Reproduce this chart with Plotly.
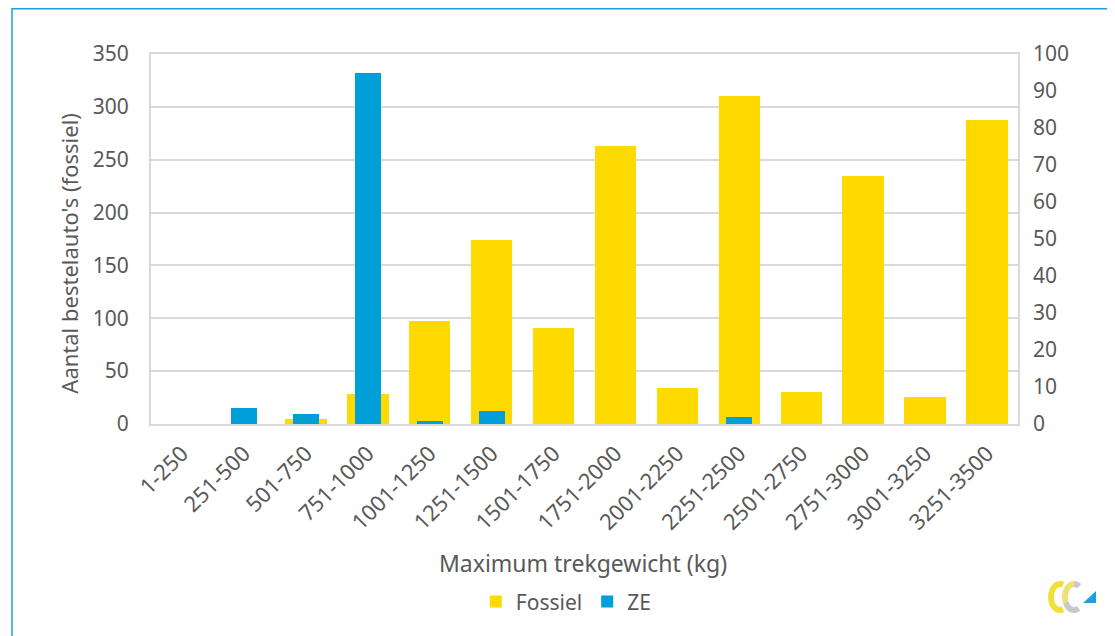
import math
import plotly.graph_objects as go

categories = ['1-250', '251-500', '501-750', '751-1000', '1001-1250', '1251-1500', '1501-1750',
              '1751-2000', '2001-2250', '2251-2500', '2501-2750', '2751-3000', '3001-3250', '3251-3500']
fossiel = [0, 0, 5, 28, 97, 174, 91, 263, 34, 310, 30, 235, 26, 288]
ze = [0, 4.4, 2.6, 95, 0.7, 3.6, 0, 0, 0, 1.8, 0, 0, 0, 0]

FONT = 'Noto Sans'
GREY = '#595959'
GRID = '#d9d9d9'


def to_paper(x, y):
    # screen pixel (window coords) -> paper coords; canvas sits 8px in from the window edge
    return (x - 8 - 143) / 867, (424 - y) / 370


def arc_path(cx, cy, rx, ry, a0, a1, n=24):
    pts = []
    for i in range(n + 1):
        a = math.radians(a0 + (a1 - a0) * i / n)
        pts.append(to_paper(cx + rx * math.cos(a), cy - ry * math.sin(a)))
    return 'M ' + ' L '.join(f'{px:.4f},{py:.4f}' for px, py in pts)


def poly_path(points):
    pts = [to_paper(x, y) for x, y in points]
    return 'M ' + ' L '.join(f'{px:.4f},{py:.4f}' for px, py in pts) + ' Z'


fig = go.Figure()
fig.add_trace(go.Bar(x=categories, y=fossiel, name='Fossiel', marker_color='#FFDA00',
                     marker_line_width=0, width=0.67, yaxis='y'))
fig.add_trace(go.Bar(x=categories, y=ze, name='ZE', marker_color='#009FDA',
                     marker_line_width=0, width=0.42, yaxis='y2'))

# small logo bottom right
logo = [
    dict(type='path', xref='paper', yref='paper', path=arc_path(1060, 597, 9, 13, 70, 290),
         line=dict(color='#F2E03A', width=6)),
    dict(type='path', xref='paper', yref='paper', path=arc_path(1074, 597, 9, 13, 90, 205),
         line=dict(color='#EDE27A', width=6)),
    dict(type='path', xref='paper', yref='paper', path=arc_path(1074, 597, 9, 13, 205, 300),
         line=dict(color='#C9C9C9', width=6)),
    dict(type='path', xref='paper', yref='paper', path=arc_path(1074, 597, 9, 13, 55, 90),
         line=dict(color='#C9C9C9', width=6)),
    dict(type='path', xref='paper', yref='paper',
         path=poly_path([(1083, 603), (1096, 603), (1096, 591)]),
         fillcolor='#1BA1E2', line=dict(width=0)),
]

# page has an 8px body margin, so the canvas is a bit smaller than the window
fig.update_layout(
    width=1107, height=628,
    margin=dict(l=143, r=97, t=46, b=212),
    paper_bgcolor='white', plot_bgcolor='white',
    font=dict(family=FONT, color=GREY, size=21),
    barmode='overlay', bargap=0,
    showlegend=True,
    legend=dict(orientation='h', x=0.479, xanchor='center', y=-0.481, yanchor='middle',
                font=dict(size=21, color=GREY), itemwidth=30, traceorder='normal'),
    xaxis=dict(type='category', tickangle=-45, showgrid=False, showline=True, linecolor=GRID,
               linewidth=2, mirror=True, ticks='outside', ticklen=6, tickcolor='white',
               tickfont=dict(size=22, color=GREY)),
    yaxis=dict(range=[0, 350], dtick=50, showgrid=True, gridcolor=GRID, gridwidth=2,
               showline=True, linecolor=GRID, linewidth=2, mirror=True, zeroline=False,
               ticklabelstandoff=16, tickfont=dict(size=21, color=GREY)),
    yaxis2=dict(range=[0, 100], dtick=10, overlaying='y', side='right', showgrid=False,
                zeroline=False, showline=False, ticklabelstandoff=14,
                tickfont=dict(size=21, color=GREY)),
    annotations=[
        dict(text='Maximum trekgewicht (kg)', xref='paper', yref='paper', x=0.498, y=-0.376,
             showarrow=False, font=dict(size=23, color=GREY), xanchor='center', yanchor='middle'),
        dict(text="Aantal bestelauto's (fossiel)", xref='paper', yref='paper', x=-0.0946, y=0.463,
             showarrow=False, textangle=-90, font=dict(size=22, color=GREY),
             xanchor='center', yanchor='middle'),
    ],
    shapes=[
        dict(type='rect', xref='paper', yref='paper', x0=-0.1603, x1=1.2, y0=-0.7, y1=1.122,
             line=dict(color='#1BA1E2', width=1.5), fillcolor='rgba(0,0,0,0)', layer='below'),
    ] + logo,
)

fig.write_html("out.html")
